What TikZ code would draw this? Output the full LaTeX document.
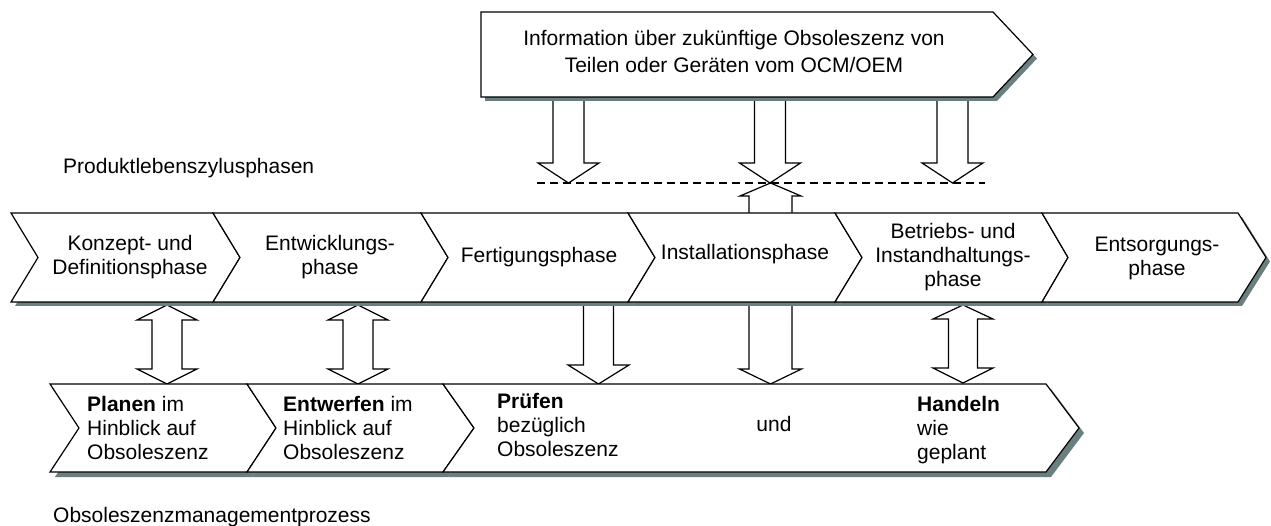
\documentclass[tikz,border=0pt]{standalone}
\usepackage{fontspec}
\setmainfont{Liberation Sans}
\definecolor{shadowc}{RGB}{106,128,128}
\tikzset{
  outline/.style={draw=black, line width=1.2pt, fill=white, line join=miter},
  shadowfill/.style={fill=shadowc, draw=none, shift={(4,4)}},
  txt/.style={inner sep=0pt, align=center, font=\fontsize{21}{24}\selectfont},
  ltxt/.style={inner sep=0pt, align=left, anchor=west, font=\fontsize{21}{24}\selectfont},
  dashline/.style={draw=black, line width=1.3pt, dash pattern=on 8pt off 5pt},
}
% style, x-left, x-notch, x-corner, x-tip, y-top, y-mid, y-bottom
\newcommand{\chevshape}[8]{%
  \path[#1] (#2,#6) -- (#4,#6) -- (#5,#7) -- (#4,#8) -- (#2,#8) -- (#3,#7) -- cycle;}
% centre x, shaft half width, head half width, y base, y head base, y tip
\newcommand{\blkarrow}[6]{%
  \path[outline] ({#1-#2},#4) -- ({#1-#2},#5) -- ({#1-#3},#5) -- (#1,#6)
    -- ({#1+#3},#5) -- ({#1+#2},#5) -- ({#1+#2},#4) -- cycle;}
% centre x, shaft half width, head half width, y tip1, y head base1, y head base2, y tip2
\newcommand{\blkdouble}[7]{%
  \path[outline] (#1,#4) -- ({#1+#3},#5) -- ({#1+#2},#5) -- ({#1+#2},#6) -- ({#1+#3},#6)
    -- (#1,#7) -- ({#1-#3},#6) -- ({#1-#2},#6) -- ({#1-#2},#5) -- ({#1-#3},#5) -- cycle;}
\begin{document}
\begin{tikzpicture}[x=1pt,y=-1pt]
\useasboundingbox (0,0) rectangle (1271,526);
% ---- block arrows (behind the shapes)
\blkarrow{568.5}{15.5}{30.5}{90}{163}{183}
\blkarrow{770}{15.5}{30.5}{90}{163}{183}
\blkarrow{952.5}{15.5}{30.5}{90}{163}{183}
\blkarrow{770.5}{21.5}{30.5}{220}{196}{183}
\blkarrow{598.5}{15}{30.5}{295}{365}{384}
\blkarrow{770.5}{21.5}{31}{295}{369}{384}
\blkdouble{167}{15}{30}{305}{320}{369}{384}
\blkdouble{358}{15}{30}{305}{320}{369}{384}
\blkdouble{963}{14.5}{30}{305}{319}{368}{383}
\coordinate (dashL) at (537,183);
\coordinate (dashR) at (985,183);
\draw[dashline] (dashL) -- (dashR);
% ---- shadows
\chevshape{shadowfill}{481}{481}{993}{1033}{12}{54.5}{97}
\chevshape{shadowfill}{11}{38}{213}{240}{213}{257.5}{302}
\chevshape{shadowfill}{213}{240}{421}{448}{213}{257.5}{302}
\chevshape{shadowfill}{421}{448}{628}{655}{213}{257.5}{302}
\chevshape{shadowfill}{628}{655}{835}{862}{213}{257.5}{302}
\chevshape{shadowfill}{835}{862}{1042}{1068}{213}{257.5}{302}
\chevshape{shadowfill}{1042}{1068}{1238}{1266}{213}{257.5}{302}
\chevshape{shadowfill, shift={(1,1)}}{50}{79}{247}{276}{384}{428}{472}
\chevshape{shadowfill, shift={(1,1)}}{247}{276}{443}{474}{384}{428}{472}
\chevshape{shadowfill, shift={(1,1)}}{443}{474}{1046}{1079}{384}{428}{472}
% ---- shapes
\chevshape{outline}{481}{481}{993}{1033}{12}{54.5}{97}
\chevshape{outline}{11}{38}{213}{240}{213}{257.5}{302}
\chevshape{outline}{213}{240}{421}{448}{213}{257.5}{302}
\chevshape{outline}{421}{448}{628}{655}{213}{257.5}{302}
\chevshape{outline}{628}{655}{835}{862}{213}{257.5}{302}
\chevshape{outline}{835}{862}{1042}{1068}{213}{257.5}{302}
\chevshape{outline}{1042}{1068}{1238}{1266}{213}{257.5}{302}
\chevshape{outline}{50}{79}{247}{276}{384}{428}{472}
\chevshape{outline}{247}{276}{443}{474}{384}{428}{472}
\chevshape{outline}{443}{474}{1046}{1079}{384}{428}{472}
% ---- texts
\node[txt, font=\fontsize{21}{27}\selectfont] (info) at (734,51)
  {Information über zukünftige Obsoleszenz von\\Teilen oder Geräten vom OCM/OEM};
\node[ltxt, anchor=base west] (plabel) at (63,174) {Produktlebenszylusphasen};
\node[txt] (p1) at (130,257) {Konzept- und\\Definitionsphase};
\node[txt] (p2) at (330,257) {Entwicklungs-\\phase};
\node[txt] (p3) at (539,257) {Fertigungsphase};
\node[txt] (p4) at (745,254) {Installationsphase};
\node[txt] (p5) at (953,257) {Betriebs- und\\Instandhaltungs-\\phase};
\node[txt] (p6) at (1157,258) {Entsorgungs-\\phase};
\node[ltxt] (q1) at (87,427.5) {\textbf{Planen} im\\Hinblick auf\\Obsoleszenz};
\node[ltxt] (q2) at (283,427.5) {\textbf{Entwerfen} im\\Hinblick auf\\Obsoleszenz};
\node[ltxt] (q3) at (497,425) {\textbf{Prüfen}\\bezüglich\\Obsoleszenz};
\node[txt] (und) at (774,423.5) {und};
\node[ltxt] (q4) at (917,430.5) {\textbf{Handeln}\\wie\\geplant};
\node[ltxt, anchor=base west] (olabel) at (53,522.5) {Obsoleszenzmanagementprozess};
\end{tikzpicture}
\end{document}
